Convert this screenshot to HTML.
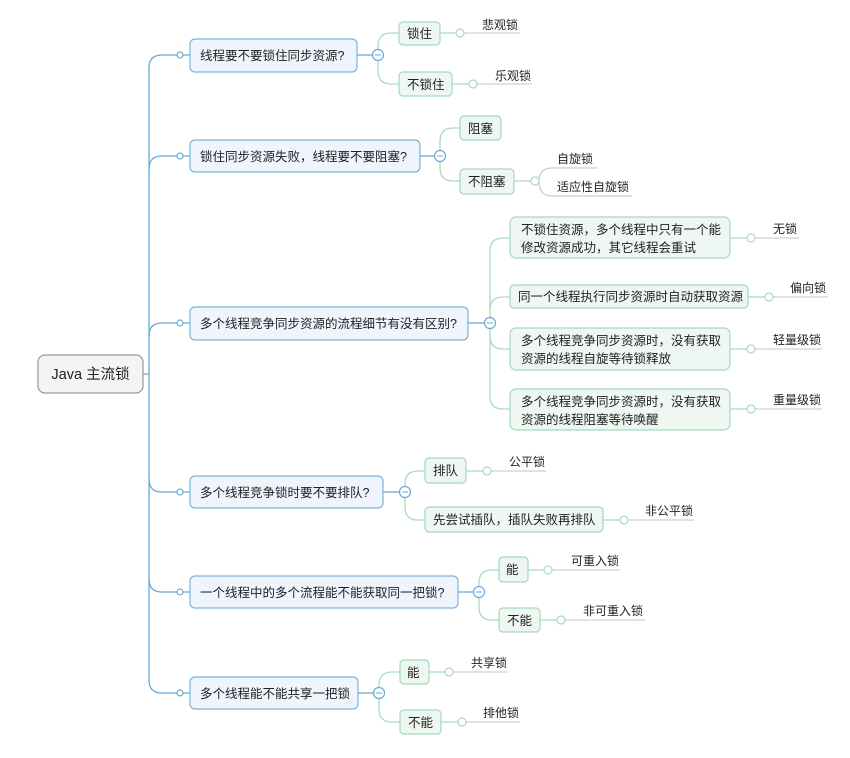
<!DOCTYPE html>
<html><head><meta charset="utf-8"><style>
html,body{margin:0;padding:0;background:#fff;}
svg{display:block;font-family:"Liberation Sans","Noto Sans CJK SC",sans-serif;}
.b{fill:#eef5fd;stroke:#7db3db;stroke-width:1.2;}
.g{fill:#eef7f1;stroke:#a3d9bb;stroke-width:1.2;}
.tl{fill:none;stroke:#6aa9d6;stroke-width:1.3;}
.gl{fill:none;stroke:#a8dcc0;stroke-width:1.3;}
.ul{stroke:#d0d0d0;stroke-width:1.3;}
.tc{fill:#fff;stroke:#6aa9d6;stroke-width:1.2;}
.gc{fill:#fff;stroke:#a8dcc0;stroke-width:1.2;}
.mn{stroke:#6aa9d6;stroke-width:1;}
text{fill:#222;font-size:12.5px;}
.s{font-size:12px;}
</style></head><body>
<svg width="850" height="758" viewBox="0 0 850 758">
<path class="tl" d="M143 374 H149"/>
<path class="tl" d="M149 680 V68 Q149 55 162 55 H190"/>
<path class="tl" d="M149 169 Q149 156 162 156 H190"/>
<path class="tl" d="M149 336 Q149 323 162 323 H190"/>
<path class="tl" d="M149 479 Q149 492 162 492 H190"/>
<path class="tl" d="M149 579 Q149 592 162 592 H190"/>
<path class="tl" d="M149 680 Q149 693 162 693 H190"/>
<g class="tc"><circle cx="180" cy="55" r="3"/><circle cx="180" cy="156" r="3"/><circle cx="180" cy="323" r="3"/><circle cx="180" cy="492" r="3"/><circle cx="180" cy="592" r="3"/><circle cx="180" cy="693" r="3"/></g>
<rect x="38" y="355" width="105" height="38" rx="7" fill="#f4f4f4" stroke="#999" stroke-width="1.2"/>
<text x="90.5" y="379" text-anchor="middle" style="font-size:14.5px">Java 主流锁</text>

<rect class="b" x="190" y="39" width="167" height="33" rx="5"/><text x="200" y="60">线程要不要锁住同步资源?</text>
<rect class="b" x="190" y="140" width="230" height="32" rx="5"/><text x="200" y="161">锁住同步资源失败，线程要不要阻塞?</text>
<rect class="b" x="190" y="307" width="278" height="33" rx="5"/><text x="200" y="328">多个线程竞争同步资源的流程细节有没有区别?</text>
<rect class="b" x="190" y="476" width="193" height="32" rx="5"/><text x="200" y="497">多个线程竞争锁时要不要排队?</text>
<rect class="b" x="190" y="576" width="268" height="32" rx="5"/><text x="200" y="597">一个线程中的多个流程能不能获取同一把锁?</text>
<rect class="b" x="190" y="677" width="168" height="32" rx="5"/><text x="200" y="698">多个线程能不能共享一把锁</text>

<path class="tl" d="M357 55 H372"/>
<path class="gl" d="M378 55 V46 Q378 33 391 33 H399 M378 55 V71 Q378 84 391 84 H399"/>
<rect class="g" x="399" y="22" width="41" height="23" rx="4"/><text x="407" y="38">锁住</text>
<rect class="g" x="399" y="72" width="53" height="24" rx="4"/><text x="407" y="89">不锁住</text>
<path class="gl" d="M440 33 H456 M452 84 H469"/>
<line class="ul" x1="464" y1="33" x2="520" y2="33"/><line class="ul" x1="477" y1="84" x2="532" y2="84"/>
<circle class="gc" cx="460" cy="33" r="4"/><circle class="gc" cx="473" cy="84" r="4"/>
<text class="s" x="482" y="29">悲观锁</text><text class="s" x="495" y="80">乐观锁</text>
<circle class="tc" cx="378" cy="55" r="5.5"/><line class="mn" x1="375" y1="55" x2="381" y2="55"/>

<path class="tl" d="M420 156 H434"/>
<path class="gl" d="M440 156 V141 Q440 128 453 128 H460 M440 156 V168 Q440 181 453 181 H460"/>
<rect class="g" x="460" y="116" width="41" height="24" rx="4"/><text x="468" y="133">阻塞</text>
<rect class="g" x="460" y="169" width="54" height="25" rx="4"/><text x="468" y="186">不阻塞</text>
<path class="gl" d="M514 181 H531"/>
<path fill="none" stroke="#ccc" stroke-width="1.2" d="M539 181 Q539 168 552 168 H597 M539 181 Q539 196 552 196 H632"/>
<circle class="gc" cx="535" cy="181" r="4"/>
<text class="s" x="557" y="163">自旋锁</text><text class="s" x="557" y="191">适应性自旋锁</text>
<circle class="tc" cx="440" cy="156" r="5.5"/><line class="mn" x1="437" y1="156" x2="443" y2="156"/>

<path class="tl" d="M468 323 H484"/>
<path class="gl" d="M490 323 V251 Q490 238 503 238 H510 M490 310 Q490 297 503 297 H510 M490 336 Q490 349 503 349 H510 M490 323 V396 Q490 409 503 409 H510"/>
<rect class="g" x="510" y="217" width="220" height="41" rx="6"/><text x="521" y="234">不锁住资源，多个线程中只有一个能</text><text x="521" y="252">修改资源成功，其它线程会重试</text>
<rect class="g" x="510" y="285" width="238" height="23" rx="4"/><text x="518" y="301">同一个线程执行同步资源时自动获取资源</text>
<rect class="g" x="510" y="328" width="220" height="42" rx="6"/><text x="521" y="345">多个线程竞争同步资源时，没有获取</text><text x="521" y="363">资源的线程自旋等待锁释放</text>
<rect class="g" x="510" y="389" width="220" height="41" rx="6"/><text x="521" y="406">多个线程竞争同步资源时，没有获取</text><text x="521" y="424">资源的线程阻塞等待唤醒</text>
<path class="gl" d="M730 238 H747 M748 297 H765 M730 349 H747 M730 409 H747"/>
<line class="ul" x1="755" y1="238" x2="799" y2="238"/><line class="ul" x1="773" y1="297" x2="828" y2="297"/>
<line class="ul" x1="755" y1="349" x2="822" y2="349"/><line class="ul" x1="755" y1="409" x2="822" y2="409"/>
<circle class="gc" cx="751" cy="238" r="4"/><circle class="gc" cx="769" cy="297" r="4"/><circle class="gc" cx="751" cy="349" r="4"/><circle class="gc" cx="751" cy="409" r="4"/>
<text class="s" x="773" y="233">无锁</text><text class="s" x="790" y="292">偏向锁</text><text class="s" x="773" y="344">轻量级锁</text><text class="s" x="773" y="404">重量级锁</text>
<circle class="tc" cx="490" cy="323" r="5.5"/><line class="mn" x1="487" y1="323" x2="493" y2="323"/>

<path class="tl" d="M383 492 H399"/>
<path class="gl" d="M405 492 V484 Q405 471 418 471 H425 M405 492 V507 Q405 520 418 520 H425"/>
<rect class="g" x="425" y="458" width="41" height="25" rx="4"/><text x="433" y="475">排队</text>
<rect class="g" x="425" y="507" width="178" height="25" rx="4"/><text x="433" y="524">先尝试插队，插队失败再排队</text>
<path class="gl" d="M466 471 H483 M603 520 H620"/>
<line class="ul" x1="491" y1="471" x2="546" y2="471"/><line class="ul" x1="628" y1="520" x2="694" y2="520"/>
<circle class="gc" cx="487" cy="471" r="4"/><circle class="gc" cx="624" cy="520" r="4"/>
<text class="s" x="509" y="466">公平锁</text><text class="s" x="645" y="515">非公平锁</text>
<circle class="tc" cx="405" cy="492" r="5.5"/><line class="mn" x1="402" y1="492" x2="408" y2="492"/>

<path class="tl" d="M458 592 H473"/>
<path class="gl" d="M479 592 V583 Q479 570 492 570 H499 M479 592 V607 Q479 620 492 620 H499"/>
<rect class="g" x="499" y="557" width="29" height="25" rx="4"/><text x="506" y="574">能</text>
<rect class="g" x="499" y="608" width="41" height="24" rx="4"/><text x="507" y="625">不能</text>
<path class="gl" d="M528 570 H544 M540 620 H557"/>
<line class="ul" x1="552" y1="570" x2="620" y2="570"/><line class="ul" x1="565" y1="620" x2="645" y2="620"/>
<circle class="gc" cx="548" cy="570" r="4"/><circle class="gc" cx="561" cy="620" r="4"/>
<text class="s" x="571" y="565">可重入锁</text><text class="s" x="583" y="615">非可重入锁</text>
<circle class="tc" cx="479" cy="592" r="5.5"/><line class="mn" x1="476" y1="592" x2="482" y2="592"/>

<path class="tl" d="M358 693 H373"/>
<path class="gl" d="M379 693 V685 Q379 672 392 672 H400 M379 693 V709 Q379 722 392 722 H400"/>
<rect class="g" x="400" y="660" width="29" height="24" rx="4"/><text x="407" y="677">能</text>
<rect class="g" x="400" y="710" width="41" height="24" rx="4"/><text x="408" y="727">不能</text>
<path class="gl" d="M429 672 H445 M441 722 H458"/>
<line class="ul" x1="453" y1="672" x2="508" y2="672"/><line class="ul" x1="466" y1="722" x2="520" y2="722"/>
<circle class="gc" cx="449" cy="672" r="4"/><circle class="gc" cx="462" cy="722" r="4"/>
<text class="s" x="471" y="667">共享锁</text><text class="s" x="483" y="717">排他锁</text>
<circle class="tc" cx="379" cy="693" r="5.5"/><line class="mn" x1="376" y1="693" x2="382" y2="693"/>
</svg>
</body></html>
